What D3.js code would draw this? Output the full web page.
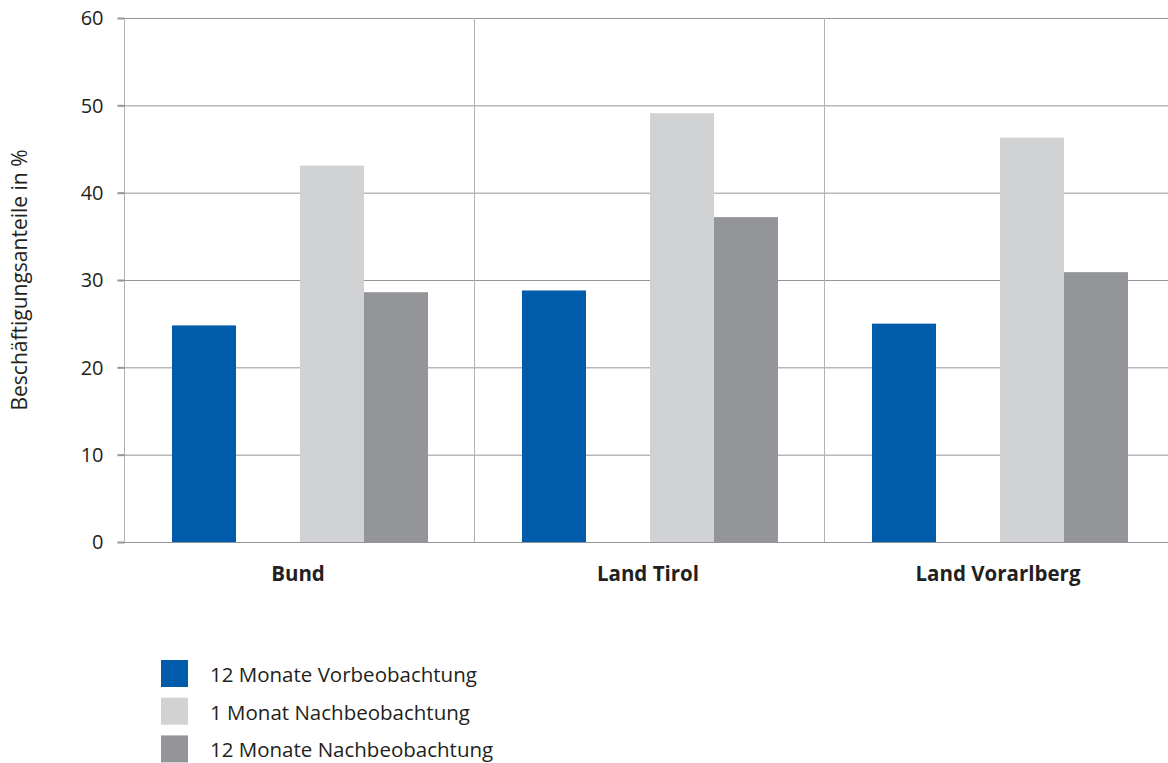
<!DOCTYPE html>
<html>
<head>
<meta charset="utf-8">
<script src="https://cdn.jsdelivr.net/npm/d3@7"></script>
<style>
  html, body { margin: 0; padding: 0; background: #fff; }
  svg { display: block; }
  text { font-family: "Open Sans", sans-serif; fill: #231f20; }
</style>
</head>
<body>
<svg id="chart" width="1168" height="763"></svg>
<script>
const categories = ["Bund", "Land Tirol", "Land Vorarlberg"];
const seriesNames = ["12 Monate Vorbeobachtung", "", "1 Monat Nachbeobachtung", "12 Monate Nachbeobachtung"];
const vorbeobachtung12 = [24.8, 28.8, 25.0];
const leer = [null, null, null];
const nachbeobachtung1 = [43.1, 49.1, 46.3];
const nachbeobachtung12 = [28.6, 37.2, 30.9];
const yTicks = [0, 10, 20, 30, 40, 50, 60];
const yTitle = "Beschäftigungsanteile in %";

const seriesValues = [vorbeobachtung12, leer, nachbeobachtung1, nachbeobachtung12];
const colors = ["#005baa", "none", "#d1d2d4", "#939598"];

const svg = d3.select("#chart");
const mLeft = 124, mTop = 18, mBottom = 542, bandW = 350;

const x0 = d3.scaleBand().domain(categories).range([mLeft, mLeft + bandW * categories.length]).paddingInner(0).paddingOuter(0);
const x1 = d3.scaleBand().domain(d3.range(seriesValues.length)).range([48, 48 + 64 * 4]).padding(0);
const y = d3.scaleLinear().domain([0, 60]).range([mBottom, mTop]);

// horizontal grid
svg.append("g").selectAll("line").data(yTicks).join("line")
  .attr("x1", mLeft).attr("x2", 1168)
  .attr("y1", d => y(d) + 0.5).attr("y2", d => y(d) + 0.5)
  .attr("stroke", "#939598").attr("stroke-width", 1);

// vertical separators
svg.append("g").selectAll("line").data(categories.slice(1)).join("line")
  .attr("x1", d => Math.round(x0(d)) + 0.5).attr("x2", d => Math.round(x0(d)) + 0.5)
  .attr("y1", mTop).attr("y2", mBottom)
  .attr("stroke", "#b1b2b4").attr("stroke-width", 1);

// bars
const rows = [];
categories.forEach((c, i) => seriesValues.forEach((s, j) => {
  if (s[i] != null) rows.push({ c, j, v: s[i] });
}));
svg.append("g").selectAll("rect").data(rows).join("rect")
  .attr("x", d => x0(d.c) + x1(d.j))
  .attr("width", x1.bandwidth())
  .attr("y", d => y(d.v))
  .attr("height", d => y(0) - y(d.v))
  .attr("fill", d => colors[d.j]);

// y axis
const yAxis = d3.axisLeft(y).tickValues(yTicks).tickSize(7).tickPadding(14);
const gy = svg.append("g").attr("transform", `translate(${mLeft + 0.5},0)`).call(yAxis);
gy.select(".domain").attr("stroke", "#b1b2b4").attr("d", `M-0,${mTop}V${mBottom}`);
gy.selectAll(".tick line").attr("stroke", "#939598").attr("stroke-width", 2);
gy.selectAll(".tick text").style("font-family", "'Open Sans', sans-serif").style("font-size", "20px").attr("fill", "#231f20").attr("dy", "0.34em");

// x category labels
svg.append("g").selectAll("text").data(categories).join("text")
  .attr("x", d => x0(d) + x0.bandwidth() / 2 - 1)
  .attr("y", 581)
  .attr("text-anchor", "middle")
  .style("font-size", "20.5px").style("font-weight", "bold")
  .text(d => d);

// y title
svg.append("text")
  .attr("transform", `translate(27,${(mTop + mBottom) / 2}) rotate(-90)`)
  .attr("text-anchor", "middle")
  .style("font-size", "21px")
  .text(yTitle);

// legend
const legendItems = seriesNames.map((n, i) => ({ n, c: colors[i] })).filter(d => d.n);
const lg = svg.append("g").selectAll("g").data(legendItems).join("g")
  .attr("transform", (d, i) => `translate(161,${660 + i * 37.7})`);
lg.append("rect").attr("width", 27).attr("height", 27).attr("fill", d => d.c);
lg.append("text").attr("x", 49).attr("y", 22).style("font-size", "20.5px").text(d => d.n);
</script>
</body>
</html>
